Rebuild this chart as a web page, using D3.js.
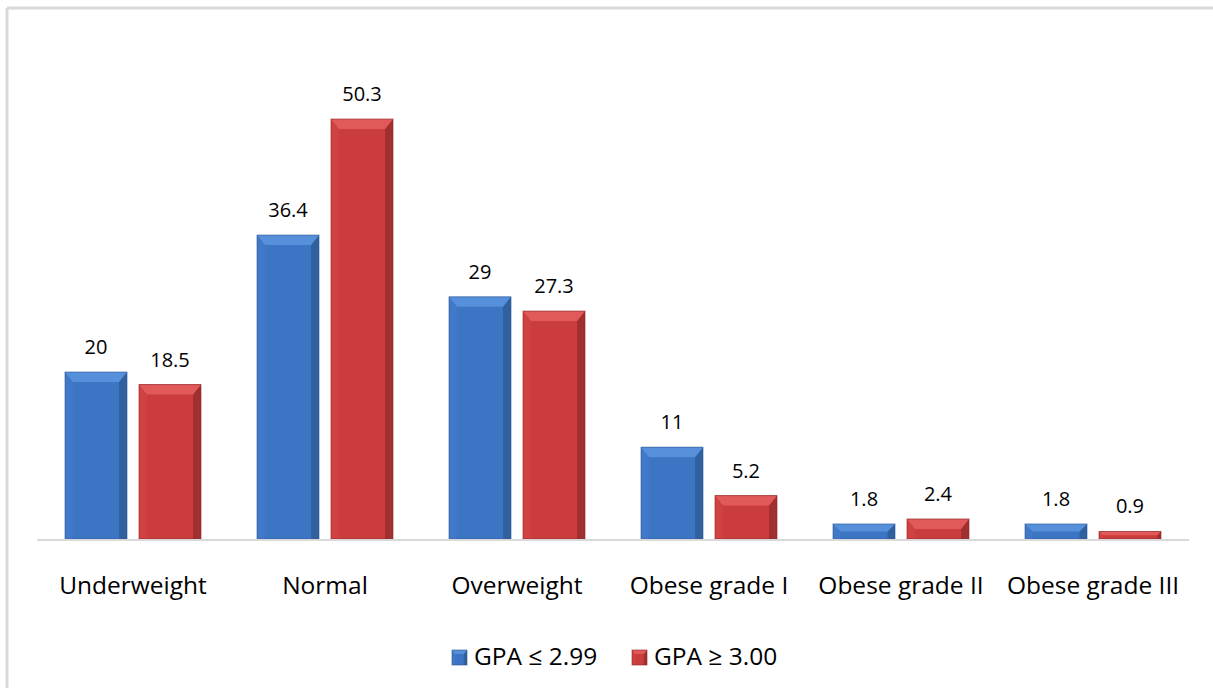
<!DOCTYPE html>
<html>
<head>
<meta charset="utf-8">
<script src="https://cdn.jsdelivr.net/npm/d3@7"></script>
<style>
  body { margin: 0; background: #fff; }
  svg { display: block; font-family: "Open Sans", "Noto Sans", sans-serif; }
</style>
</head>
<body>
<svg id="chart" width="1213" height="688"></svg>
<script>
var categories = ["Underweight", "Normal", "Overweight", "Obese grade I", "Obese grade II", "Obese grade III"];
var seriesNames = ["GPA \u2264 2.99", "GPA \u2265 3.00"];
var lowGpa = [20, 36.4, 29, 11, 1.8, 1.8];
var highGpa = [18.5, 50.3, 27.3, 5.2, 2.4, 0.9];

// face, top bevel, left bevel, right bevel, outline
var palettes = [
  { face: "#3b75c3", top: "#5790da", left: "#4079c7", right: "#30619f", line: "#2b5790" },
  { face: "#cb3c3c", top: "#e25959", left: "#d04242", right: "#a22f2f", line: "#8a2626" }
];

var svg = d3.select("#chart");
var margin = { left: 37, right: 24, top: 0 };
var baseY = 539;

// frame (top and left only)
svg.append("line").attr("x1", 7).attr("y1", 8).attr("x2", 1213).attr("y2", 8)
  .style("stroke", "#d9d9d9").style("stroke-width", 3);
svg.append("line").attr("x1", 7).attr("y1", 8).attr("x2", 7).attr("y2", 688)
  .style("stroke", "#d9d9d9").style("stroke-width", 3);

var x0 = d3.scaleBand().domain(categories).range([margin.left, 1189]).paddingInner(0).paddingOuter(0);
var x1 = d3.scaleBand().domain([0, 1]).range([28, x0.bandwidth() - 28]).paddingInner(0.162);
var y = d3.scaleLinear().domain([0, 50.3]).range([baseY, 119]);

var data = [];
categories.forEach(function (c, i) {
  data.push({ cat: c, s: 0, v: lowGpa[i] });
  data.push({ cat: c, s: 1, v: highGpa[i] });
});

function drawBevelBar(g, bx, by, bw, bh, pal, size) {
  var bt = Math.min(size, bh / 2);
  var bs = Math.min(size * 0.8, bh / 2);
  g.append("rect").attr("x", bx).attr("y", by).attr("width", bw).attr("height", bh)
    .style("fill", pal.face);
  g.append("polygon")
    .attr("points", [[bx, by + bh], [bx, by], [bx + bs, by + bt], [bx + bs, by + bh]].join(" "))
    .style("fill", pal.left);
  g.append("polygon")
    .attr("points", [[bx + bw, by + bh], [bx + bw, by], [bx + bw - bs, by + bt], [bx + bw - bs, by + bh]].join(" "))
    .style("fill", pal.right);
  g.append("polygon")
    .attr("points", [[bx, by], [bx + bw, by], [bx + bw - bs, by + bt], [bx + bs, by + bt]].join(" "))
    .style("fill", pal.top);
  g.append("rect").attr("x", bx).attr("y", by).attr("width", bw).attr("height", bh)
    .style("fill", "none").style("stroke", pal.line).style("stroke-width", 1).style("stroke-opacity", 0.6);
}

var bars = svg.append("g");
data.forEach(function (d) {
  var bx = x0(d.cat) + x1(d.s);
  var by = y(d.v);
  var g = bars.append("g");
  drawBevelBar(g, bx, by, x1.bandwidth(), baseY - by, palettes[d.s], 10);
  svg.append("text")
    .attr("x", bx + x1.bandwidth() / 2)
    .attr("y", by - 18)
    .attr("text-anchor", "middle")
    .style("font-size", "20px")
    .style("fill", "#000")
    .text(d.v);
});

// axis line
svg.append("line").attr("x1", margin.left).attr("x2", 1189).attr("y1", baseY + 1).attr("y2", baseY + 1)
  .style("stroke", "#d9d9d9").style("stroke-width", 2);

// category labels
svg.selectAll(".cat").data(categories).enter().append("text")
  .attr("class", "cat")
  .attr("x", function (d) { return x0(d) + x0.bandwidth() / 2; })
  .attr("y", 594)
  .attr("text-anchor", "middle")
  .style("font-size", "24.5px")
  .style("fill", "#000")
  .text(function (d) { return d; });

// legend
var legendX = [452, 632];
seriesNames.forEach(function (name, i) {
  var g = svg.append("g");
  drawBevelBar(g, legendX[i], 650, 15, 15, palettes[i], 4);
  svg.append("text")
    .attr("x", legendX[i] + 22)
    .attr("y", 665)
    .style("font-size", "24.5px")
    .style("fill", "#000")
    .text(name);
});
</script>
</body>
</html>
